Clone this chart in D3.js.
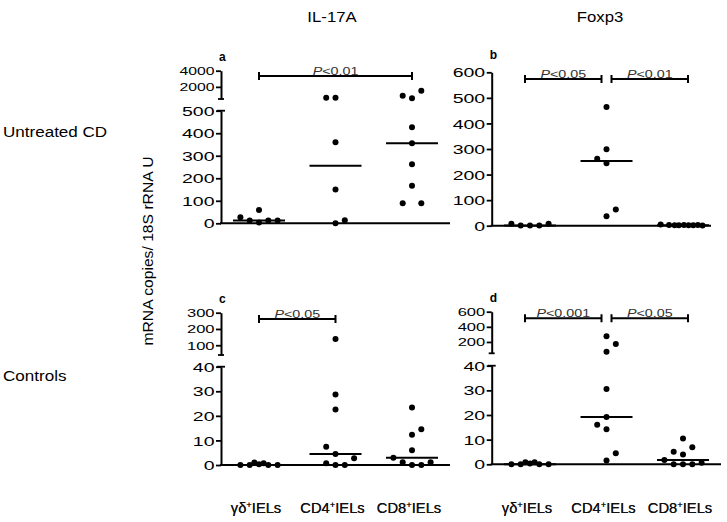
<!DOCTYPE html>
<html><head><meta charset="utf-8">
<script src="https://cdn.jsdelivr.net/npm/d3@7"></script>
<style>body{margin:0;background:#fff} svg{display:block} text{font-family:"Liberation Sans",Arial,sans-serif;fill:#000}</style>
</head><body><svg id="chart" width="727" height="522"></svg>
<script>
// ---------- data ----------
const groupNames = ["γδ", "CD4", "CD8"];
const columnTitles = ["IL-17A", "Foxp3"];
const rowTitles = ["Untreated CD", "Controls"];
const yLabel = "mRNA copies/ 18S rRNA U";

// panel a : IL-17A, untreated CD
const aGd = [27, 12, 3, 59, 12, 12];
const aGdSlot = [-4, -2, 0, 0, 2, 4];
const aCd4 = [661, 661, 360, 150, 0, 13];
const aCd4Slot = [-2, 0, 0, 0, 0, 2];
const aCd8 = [908, 587, 1526, 427, 355, 262, 167, 89, 89];
const aCd8Slot = [-2, 0, 2, 0, 0, 0, 0, -2, 2];
const aLowerTicks = [0, 100, 200, 300, 400, 500];
const aUpperTicks = [2000, 4000];
const aBreak = [500, 4000];
const aTests = [{from: 0, to: 2, label: "0.01"}];

// panel b : Foxp3, untreated CD
const bGd = [8, 1, 1, 1, 8];
const bGdSlot = [-4, -2, 0, 2, 4];
const bCd4 = [464, 299, 262, 244, 37, 63];
const bCd4Slot = [0, 0, -2, 0, 0, 2];
const bCd8 = [5, 3, 2, 2, 3, 2, 2, 3, 1];
const bCd8Slot = [-4.8, -3, -1.8, -0.9, 0.2, 1.2, 2.2, 3.2, 4.2];
const bLowerTicks = [0, 100, 200, 300, 400, 500, 600];
const bTests = [{from: 0, to: 1, label: "0.05"}, {from: 1, to: 2, label: "0.01"}];

// panel c : IL-17A, controls
const cGd = [0, 0, 1, 0.3, 0.7, 0, 0];
const cGdSlot = [-4, -2, -1, 0, 1, 2, 4];
const cCd4 = [138, 28.7, 22.6, 7.4, 4.5, 0.7, 0, 0, 2.7];
const cCd4Slot = [0, 0, 0, -2, 0, -2, 0, 2, 4];
const cCd8 = [23.4, 14.5, 12.3, 6, 3, 1.1, 0, 0, 1.1];
const cCd8Slot = [0, 2, 0, 0, -4, -2, 0, 2, 4];
const cLowerTicks = [0, 10, 20, 30, 40];
const cUpperTicks = [100, 200, 300];
const cBreak = [40, 300];
const cTests = [{from: 0, to: 1, label: "0.05"}];

// panel d : Foxp3, controls
const dGd = [0, 0, 0.8, 0.3, 0.8, 0, 0];
const dGdSlot = [-4, -2, -1, 0, 1, 2, 4];
const dCd4 = [275, 173, 71, 30.5, 19.2, 16, 14.2, 4.5, 1.5];
const dCd4Slot = [0, 2, 0, 0, 0, -2, 0, 2, 0];
const dCd8 = [10.5, 6.9, 5.1, 4, 1.7, 0, 0, 0, 0.6];
const dCd8Slot = [0, 2, -2, 0, -4, -2, 0, 2, 4];
const dLowerTicks = [0, 10, 20, 30, 40];
const dUpperTicks = [200, 400, 600];
const dBreak = [50, 600];
const dTests = [{from: 0, to: 1, label: "0.001"}, {from: 1, to: 2, label: "0.05"}];

// ---------- layout ----------
const panels = [
  {letter: "a", vals: [aGd, aCd4, aCd8], slots: [aGdSlot, aCd4Slot, aCd8Slot], lowTicks: aLowerTicks, upTicks: aUpperTicks, brk: aBreak, tests: aTests,
   axisX: 221, xEnd: 450, y0: 223.3, yTop: 110.7, upRange: [99, 70.7], gx: [259, 412], bracketY: 76, upFont: 10.5},
  {letter: "b", vals: [bGd, bCd4, bCd8], slots: [bGdSlot, bCd4Slot, bCd8Slot], lowTicks: bLowerTicks, upTicks: null, brk: null, tests: bTests,
   axisX: 491.7, xEnd: 711, y0: 225.7, yTop: 72.3, upRange: null, gx: [530, 683], bracketY: 79},
  {letter: "c", vals: [cGd, cCd4, cCd8], slots: [cGdSlot, cCd4Slot, cCd8Slot], lowTicks: cLowerTicks, upTicks: cUpperTicks, brk: cBreak, tests: cTests,
   axisX: 221, xEnd: 450, y0: 465, yTop: 366.7, upRange: [355, 312.7], gx: [259, 412], bracketY: 319, upFont: 11},
  {letter: "d", vals: [dGd, dCd4, dCd8], slots: [dGdSlot, dCd4Slot, dCd8Slot], lowTicks: dLowerTicks, upTicks: dUpperTicks, brk: dBreak, tests: dTests,
   axisX: 491.7, xEnd: 721, y0: 464.3, yTop: 365.7, upRange: [353.3, 311.7], gx: [530, 683], bracketY: 318.3, upFont: 11}
];

const svg = d3.select("#chart");
const SLOT = 4.65, R = 3, MED_HALF = 26, SX = 1.5;

// titles
const colX = [332, 600];
columnTitles.forEach((t, i) => {
  svg.append("text").attr("transform", `translate(${colX[i]},22) scale(1.08,1)`)
    .attr("text-anchor", "middle").style("font-size", "15.5px").text(t);
});
const rowY = [137, 381];
rowTitles.forEach((t, i) => {
  svg.append("text").attr("transform", `translate(3,${rowY[i]}) scale(1.1,1)`)
    .style("font-size", "15.5px").text(t);
});
svg.append("text").attr("transform", "translate(153,251) rotate(-90) scale(1.12,1)")
  .attr("text-anchor", "middle").style("font-size", "14px").text(yLabel);

panels.forEach(p => {
  const g = svg.append("g");
  const lowMax = p.lowTicks[p.lowTicks.length - 1];
  const yL = d3.scaleLinear().domain([0, lowMax]).range([p.y0, p.yTop]);
  const yU = p.brk ? d3.scaleLinear().domain(p.brk).range(p.upRange) : null;
  const yPos = v => (yU && v > lowMax) ? yU(v) : yL(v);
  const x = d3.scalePoint().domain(groupNames).range(p.gx);

  // lower y axis
  const axL = g.append("g").attr("transform", `translate(${p.axisX},0)`)
    .call(d3.axisLeft(yL).tickValues(p.lowTicks).tickSize(5).tickSizeOuter(0).tickFormat(d3.format("d")));
  axL.attr("font-family", null).attr("font-size", null);
  axL.select(".domain").attr("stroke-width", 2).attr("stroke", "#000");
  axL.selectAll(".tick line").attr("stroke-width", 1.8).attr("stroke", "#000");
  axL.selectAll(".tick text").attr("x", null).attr("dy", null)
    .attr("transform", `translate(-6.5,4.6) scale(${SX},1)`)
    .style("font-size", "13px").attr("fill", "#000");
  if (yU) {
    g.append("line").attr("x1", p.axisX - 4).attr("x2", p.axisX + 4)
      .attr("y1", yL(lowMax)).attr("y2", yL(lowMax)).attr("stroke", "#000").attr("stroke-width", 1.8);
    const axU = g.append("g").attr("transform", `translate(${p.axisX},0)`)
      .call(d3.axisLeft(yU).tickValues(p.upTicks).tickSize(5).tickSizeOuter(0).tickFormat(d3.format("d")));
    axU.attr("font-family", null).attr("font-size", null);
    axU.select(".domain").attr("stroke-width", 2).attr("stroke", "#000");
    axU.selectAll(".tick line").attr("stroke-width", 1.8).attr("stroke", "#000");
    axU.selectAll(".tick text").attr("x", null).attr("dy", null)
      .attr("transform", `translate(-6.5,3.8) scale(${SX},1)`)
      .style("font-size", p.upFont + "px").attr("fill", "#000");
    g.append("line").attr("x1", p.axisX - 3).attr("x2", p.axisX + 3)
      .attr("y1", yU(p.brk[0])).attr("y2", yU(p.brk[0])).attr("stroke", "#000").attr("stroke-width", 1.8);
  }
  // x axis
  g.append("line").attr("x1", p.axisX - 1).attr("x2", p.xEnd).attr("y1", p.y0).attr("y2", p.y0)
    .attr("stroke", "#000").attr("stroke-width", 2);

  // points and medians
  groupNames.forEach((gn, gi) => {
    const vals = p.vals[gi], slots = p.slots[gi];
    g.selectAll(null).data(vals).join("circle")
      .attr("cx", (d, i) => x(gn) + slots[i] * SLOT)
      .attr("cy", d => yPos(d)).attr("r", R).attr("fill", "#000");
    const m = d3.median(vals);
    g.append("line").attr("x1", x(gn) - MED_HALF).attr("x2", x(gn) + MED_HALF)
      .attr("y1", yPos(m)).attr("y2", yPos(m)).attr("stroke", "#000").attr("stroke-width", 2);
  });

  // brackets
  const multi = p.tests.length > 1;
  p.tests.forEach((t, ti) => {
    const sh = multi ? (ti === 0 ? -5 : 5) : 0;
    const x1 = x(groupNames[t.from]) + sh, x2 = x(groupNames[t.to]) + sh, yb = p.bracketY;
    g.append("path").attr("d", `M${x1},${yb - 4}V${yb + 4}M${x1},${yb}H${x2}M${x2},${yb - 4}V${yb + 4}`)
      .attr("stroke", "#000").attr("stroke-width", 2).attr("fill", "none");
    const tx = g.append("text").attr("transform", `translate(${(x1 + x2) / 2},${yb - 1.5}) scale(1.3,1)`)
      .attr("text-anchor", "middle").style("font-size", "11px").style("fill", "#333");
    tx.append("tspan").style("font-style", "italic").style("fill", "#333").text("P");
    tx.append("tspan").style("fill", "#333").text("<" + t.label);
  });

  // panel letter
  g.append("text").attr("x", p.axisX - 2).attr("y", p.upRange ? p.upRange[1] - 10 : p.yTop - 13)
    .style("font-size", "12px").style("font-weight", "bold").text(p.letter);

  // x labels
  groupNames.forEach(gn => {
    const t = g.append("text").attr("transform", `translate(${x(gn) - 3},513) scale(1.05,1)`)
      .attr("text-anchor", "middle").style("font-size", "14px").style("fill", "#111");
    t.append("tspan").style("fill", "#111").text(gn);
    t.append("tspan").attr("dy", -5).style("font-size", "9px").style("fill", "#111").text("+");
    t.append("tspan").attr("dy", 5).style("fill", "#111").text("IELs");
  });
});
</script></body></html>
